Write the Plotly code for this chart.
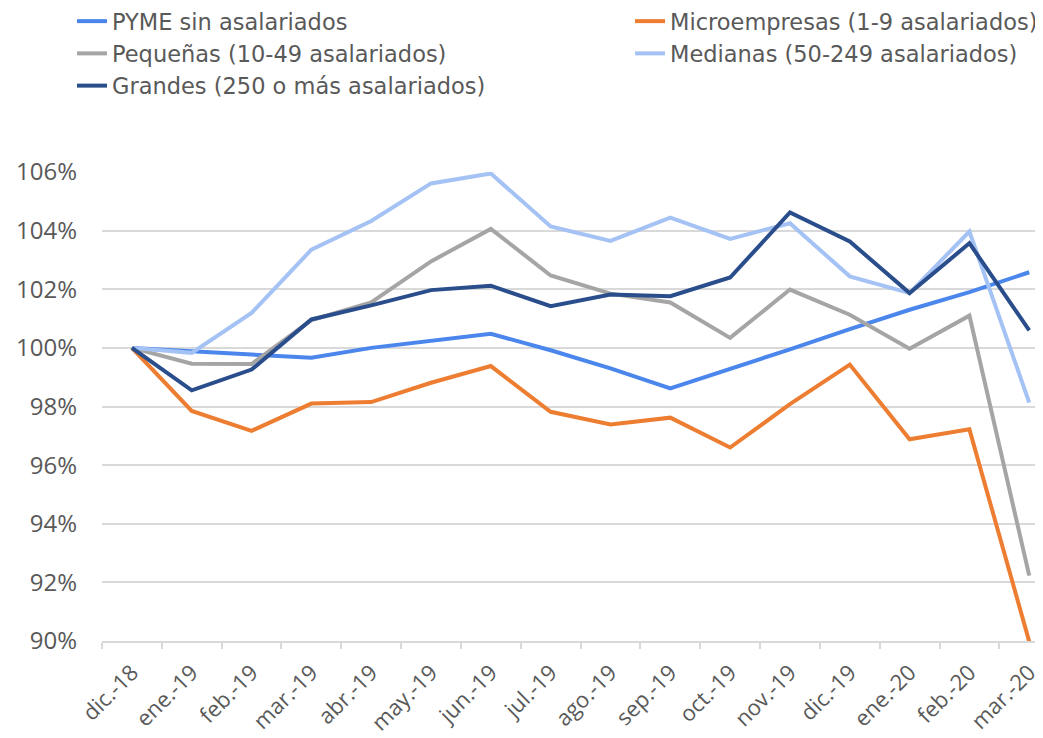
import plotly.graph_objects as go

categories = ["dic.-18", "ene.-19", "feb.-19", "mar.-19", "abr.-19", "may.-19", "jun.-19",
              "jul.-19", "ago.-19", "sep.-19", "oct.-19", "nov.-19", "dic.-19", "ene.-20",
              "feb.-20", "mar.-20"]

pyme = [100.0, 99.88, 99.76, 99.66, 100.0, 100.25, 100.48, 99.92, 99.3, 98.62, 99.27,
        99.95, 100.64, 101.3, 101.9, 102.58]
micro = [100.0, 97.85, 97.17, 98.1, 98.15, 98.81, 99.38, 97.82, 97.39, 97.62, 96.6,
         98.08, 99.43, 96.88, 97.22, 89.98]
pequenas = [100.0, 99.46, 99.45, 100.95, 101.55, 102.95, 104.06, 102.47, 101.85, 101.55,
            100.34, 101.99, 101.13, 99.97, 101.1, 92.23]
medianas = [100.0, 99.83, 101.19, 103.35, 104.33, 105.61, 105.95, 104.14, 103.65, 104.44,
            103.72, 104.25, 102.44, 101.87, 103.97, 98.13]
grandes = [100.0, 98.55, 99.26, 100.97, 101.45, 101.97, 102.12, 101.42, 101.82, 101.76,
           102.4, 104.62, 103.63, 101.87, 103.57, 100.6]

y_ticks = [90, 92, 94, 96, 98, 100, 102, 104, 106]
y_tick_labels = ["90%", "92%", "94%", "96%", "98%", "100%", "102%", "104%", "106%"]

series = [
    ("PYME sin asalariados", pyme, "#4A86EC", "legend"),
    ("Microempresas (1-9 asalariados)", micro, "#ED7D31", "legend2"),
    ("Pequeñas (10-49 asalariados)", pequenas, "#A5A5A5", "legend"),
    ("Medianas (50-249 asalariados)", medianas, "#A4C2F4", "legend2"),
    ("Grandes (250 o más asalariados)", grandes, "#2A4D8C", "legend"),
]

FONT = "Open Sans"
LFONT = "DejaVu Sans"
TXT = "#595959"

# page body has an 8px margin: figure sits at (8, 8) in the window
OFF = 8
W, H = 1043 - OFF, 738 - OFF
ML, MR, MT, MB = 102 - OFF, 0, 172 - OFF, 97
PW, PH = W - ML - MR, H - MT - MB

fig = go.Figure()
for name, vals, color, leg in series:
    fig.add_trace(go.Scatter(
        x=categories, y=vals, name=name, mode="lines",
        line=dict(color=color, width=4),
        legend=leg,
    ))

legend_common = dict(
    orientation="v", xref="paper", yref="paper",
    xanchor="left", yanchor="top",
    font=dict(family=LFONT, size=22.5, color=TXT),
    bgcolor="rgba(0,0,0,0)", borderwidth=0, tracegroupgap=0,
)
legend_top = 1 + (MT + 8) / PH

fig.update_layout(
    width=W, height=H,
    margin=dict(l=ML, r=MR, t=MT, b=MB, autoexpand=False),
    paper_bgcolor="white", plot_bgcolor="white",
    font=dict(family=FONT, color=TXT),
    showlegend=True,
    legend=dict(x=(72 - 102) / PW, y=legend_top, **legend_common),
    legend2=dict(x=(630 - 102) / PW, y=legend_top, **legend_common),
    xaxis=dict(
        type="category", range=[-0.5, 15.23],
        tickangle=-45, tickfont=dict(family=FONT, size=22, color=TXT),
        showgrid=False, showline=True, linecolor="#D9D9D9", linewidth=2,
        ticks="outside", tickson="boundaries", ticklen=6, tickcolor="#D9D9D9", tickwidth=2,
        ticklabelstandoff=8,
        automargin=False,
    ),
    yaxis=dict(
        range=[90, 106], tickvals=y_ticks, ticktext=y_tick_labels,
        tickfont=dict(family=FONT, size=24, color=TXT),
        showgrid=True, gridcolor="#D9D9D9", gridwidth=2,
        zeroline=False, showline=False, ticks="", ticklabelstandoff=24,
        automargin=False,
    ),
)

fig.write_html("out.html")
